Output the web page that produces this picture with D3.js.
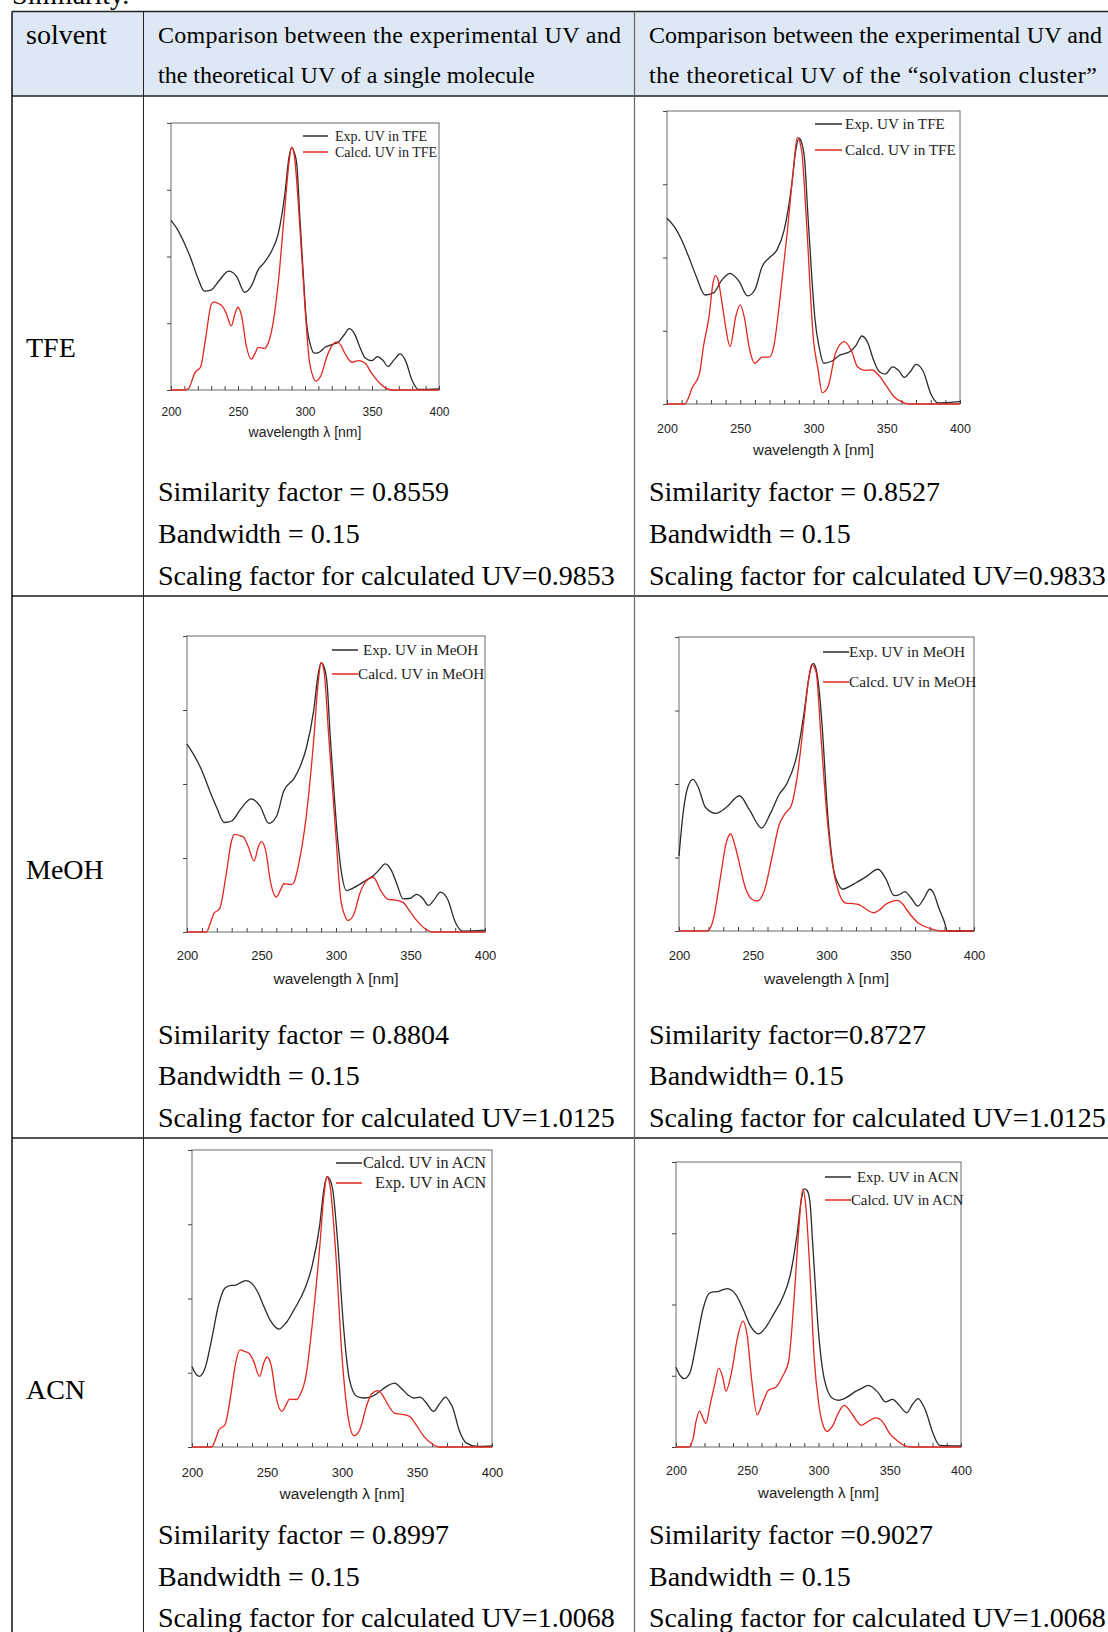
<!DOCTYPE html>
<meta charset="utf-8">
<head>
<style>
  body { margin: 0; background: #fff; }
  svg { display: block; }
</style>
</head>
<body>
<svg width="1108" height="1632"></svg>
<script src="https://d3js.org/d3.v7.min.js"></script>
<script>
// ---- data ----
var xTicks = [200, 250, 300, 350, 400];
var solvents = ["TFE", "MeOH", "ACN"];
var headerCols = [
  ["Comparison between the experimental UV and", "the theoretical UV of a single molecule"],
  ["Comparison between the experimental UV and", "the theoretical UV of the \u201csolvation cluster\u201d"]
];
var similarityText = [
  ["Similarity factor = 0.8559", "Similarity factor = 0.8527"],
  ["Similarity factor = 0.8804", "Similarity factor=0.8727"],
  ["Similarity factor = 0.8997", "Similarity factor =0.9027"]
];
var bandwidthText = [
  ["Bandwidth = 0.15", "Bandwidth = 0.15"],
  ["Bandwidth = 0.15", "Bandwidth= 0.15"],
  ["Bandwidth = 0.15", "Bandwidth = 0.15"]
];
var scalingText = [
  ["Scaling factor for calculated UV=0.9853", "Scaling factor for calculated UV=0.9833"],
  ["Scaling factor for calculated UV=1.0125", "Scaling factor for calculated UV=1.0125"],
  ["Scaling factor for calculated UV=1.0068", "Scaling factor for calculated UV=1.0068"]
];
var legendTFE = ["Exp. UV in TFE", "Calcd. UV in TFE"];
var legendMeOH = ["Exp. UV in MeOH", "Calcd. UV in MeOH"];
var legendACNsingle = ["Calcd. UV in ACN", "Exp. UV in ACN"];
var legendACNcluster = ["Exp. UV in ACN", "Calcd. UV in ACN"];

// [wavelength nm, relative absorbance]
var tfeSingleExp = [[200,.635],[205,.6],[210,.55],[215,.49],[220,.42],[225,.37],[230,.375],[236,.41],[243,.445],[249,.425],[255,.366],[260,.39],[265,.45],[270,.48],[275,.52],[280,.585],[285,.735],[288,.87],[290,.907],[292,.89],[294,.84],[296,.66],[299,.41],[301,.26],[304,.17],[307,.138],[310,.14],[315,.16],[320,.17],[325,.18],[329,.205],[333,.23],[337,.21],[341,.16],[345,.12],[350,.11],[354,.125],[358,.112],[362,.088],[366,.11],[371,.135],[375,.11],[380,.035],[385,.002],[400,.004]];
var tfeSingleCalc = [[200,0],[210,0],[213,.005],[216,.04],[218,.066],[222,.085],[226,.2],[230,.32],[232,.33],[236,.322],[238,.316],[241,.29],[245,.24],[248,.29],[250,.31],[253,.27],[256,.17],[260,.116],[263,.14],[265,.16],[270,.156],[272,.17],[275,.22],[280,.4],[285,.685],[288,.85],[290,.91],[292,.88],[295,.7],[300,.31],[303,.12],[306,.05],[308,.033],[312,.055],[316,.12],[320,.165],[324,.18],[327,.165],[330,.135],[335,.104],[340,.11],[345,.1],[350,.06],[355,.03],[360,.008],[365,0],[400,0]];
var tfeClusterExp = [[200,.634],[205,.605],[210,.56],[215,.5],[220,.435],[226,.372],[232,.38],[237,.42],[243,.446],[249,.42],[255,.369],[260,.39],[265,.47],[270,.5],[275,.525],[280,.594],[285,.742],[288,.87],[290,.907],[292,.89],[294,.83],[296,.66],[299,.42],[301,.29],[304,.19],[307,.139],[312,.145],[318,.167],[325,.179],[329,.2],[333,.232],[337,.21],[341,.15],[345,.11],[349,.102],[354,.127],[358,.115],[362,.091],[366,.11],[370,.135],[375,.11],[380,.036],[385,.004],[400,.008]];
var tfeClusterCalc = [[200,0],[212,0],[215,.025],[217,.053],[222,.1],[225,.2],[229,.31],[231,.4],[233,.438],[235,.42],[238,.33],[240,.264],[243,.196],[247,.3],[250,.338],[253,.29],[256,.196],[260,.139],[265,.16],[270,.16],[273,.2],[277,.355],[282,.582],[286,.787],[289,.91],[292,.86],[295,.64],[300,.218],[303,.12],[306,.039],[310,.06],[315,.173],[321,.213],[326,.18],[330,.127],[335,.115],[340,.116],[345,.095],[350,.06],[355,.025],[360,.008],[365,0],[400,0]];
var meohSingleExp = [[200,.635],[205,.595],[210,.545],[215,.48],[220,.42],[225,.37],[230,.375],[236,.415],[243,.45],[249,.425],[255,.367],[260,.39],[265,.477],[272,.52],[276,.56],[280,.62],[285,.747],[288,.87],[290,.91],[292,.895],[294,.84],[296,.67],[299,.45],[301,.32],[304,.19],[307,.14],[312,.15],[320,.174],[325,.19],[329,.21],[333,.23],[337,.21],[341,.16],[345,.112],[350,.114],[354,.127],[358,.115],[362,.09],[366,.11],[370,.135],[375,.11],[380,.034],[385,.003],[400,.006]];
var meohSingleCalc = [[200,0],[213,0],[216,.035],[218,.062],[222,.08],[226,.185],[230,.31],[232,.33],[236,.325],[238,.32],[241,.29],[245,.24],[248,.29],[250,.305],[253,.27],[256,.17],[260,.118],[263,.145],[265,.163],[270,.16],[272,.17],[275,.23],[280,.39],[285,.646],[288,.84],[290,.91],[292,.88],[295,.67],[300,.32],[303,.118],[306,.055],[308,.039],[312,.06],[316,.13],[320,.17],[325,.185],[330,.14],[335,.11],[340,.108],[345,.1],[350,.067],[355,.034],[360,.01],[365,0],[400,0]];
var meohClusterExp = [[200,.255],[203,.41],[206,.49],[209.5,.516],[213,.49],[218,.42],[225,.4],[232,.42],[241,.46],[248,.41],[256,.35],[262,.4],[268,.465],[273,.5],[280,.6],[285,.75],[288,.86],[291,.91],[293,.89],[295,.82],[297,.7],[301,.385],[305,.204],[308,.16],[311,.142],[315,.15],[320,.164],[327,.185],[335,.21],[340,.18],[346,.12],[350,.125],[353,.134],[357,.115],[362,.085],[366,.11],[370,.142],[373,.125],[376,.08],[380,.03],[382,0],[400,0]];
var meohClusterCalc = [[200,0],[219,0],[223,.034],[228,.18],[232,.3],[235,.33],[238,.29],[240,.25],[245,.147],[249,.11],[253,.102],[258,.14],[263,.25],[268,.363],[272,.4],[276,.425],[280,.52],[285,.73],[288,.86],[290,.907],[293,.88],[296,.68],[300,.408],[304,.227],[308,.136],[313,.095],[318,.093],[322,.09],[327,.074],[332,.062],[336,.072],[340,.09],[344,.1],[348,.104],[352,.09],[355,.068],[362,.028],[370,.009],[378,0],[400,0]];
var acnSingleBlack = [[200,.27],[203,.243],[205,.238],[209,.27],[213,.36],[218,.484],[222,.535],[226,.544],[229,.545],[233,.555],[236,.56],[240,.55],[244,.52],[247,.484],[252,.428],[258,.397],[263,.42],[268,.462],[275,.53],[280,.608],[285,.742],[288,.87],[290,.91],[292,.9],[294,.86],[297,.697],[301,.406],[305,.226],[310,.17],[315,.165],[320,.17],[325,.187],[330,.205],[335,.215],[340,.195],[344,.175],[348,.165],[352,.168],[356,.15],[361,.12],[365,.145],[369,.168],[372,.15],[374,.13],[378,.058],[383,.013],[390,.002],[400,.004]];
var acnSingleRed = [[200,0],[213,0],[216,.03],[218,.058],[222,.075],[226,.18],[229,.28],[232,.327],[235,.322],[238,.316],[241,.29],[245,.238],[248,.285],[250,.303],[253,.27],[256,.17],[260,.12],[263,.145],[265,.161],[270,.16],[272,.175],[276,.24],[280,.405],[285,.664],[288,.85],[290,.91],[292,.88],[296,.64],[300,.305],[304,.103],[308,.038],[312,.06],[317,.148],[320,.18],[324,.19],[327,.175],[330,.148],[335,.114],[340,.11],[345,.103],[350,.07],[355,.033],[360,.011],[365,0],[400,0]];
var acnClusterExp = [[200,.28],[203,.25],[206,.24],[210,.263],[214,.357],[219,.485],[223,.538],[226,.544],[229,.545],[233,.552],[236,.556],[239,.55],[242,.535],[247,.485],[252,.427],[258,.397],[263,.42],[268,.462],[275,.526],[280,.6],[285,.748],[288,.87],[290,.906],[292,.9],[294,.86],[296,.707],[300,.403],[304,.24],[310,.17],[314,.164],[320,.175],[326,.195],[330,.205],[335,.216],[342,.19],[347,.158],[352,.167],[356,.15],[362,.12],[366,.15],[370,.17],[373,.15],[375,.13],[380,.053],[385,.006],[400,.004]];
var acnClusterCalc = [[200,0],[209,0],[212,.03],[214,.088],[216.5,.126],[219,.1],[221,.082],[224,.15],[227,.216],[230,.277],[233,.24],[235,.196],[239,.263],[243,.38],[247,.442],[250,.39],[253,.24],[257,.113],[261,.158],[265,.2],[270,.21],[275,.25],[279,.3],[283,.53],[286,.754],[289,.906],[291,.85],[294,.614],[297,.31],[300,.158],[303,.08],[306,.055],[310,.075],[314,.12],[318,.146],[323,.12],[327,.09],[330,.076],[335,.09],[340,.102],[345,.088],[350,.047],[355,.023],[360,.006],[365,0],[400,0]];

// ---- layout ----
var svg = d3.select("svg");
var serif = "'Liberation Serif', 'Times New Roman', serif";
var sans = "'Liberation Sans', Arial, sans-serif";

var colX = [12, 143.5, 634.5],
    rowY = [11.5, 96, 596, 1138];

// header background
svg.append("rect").attr("x", colX[0]).attr("y", rowY[0])
    .attr("width", 1108 - colX[0]).attr("height", rowY[1] - rowY[0])
    .attr("fill", "#dde8f4");

// cut-off line of text above the table
svg.append("text").attr("x", 12).attr("y", 4).attr("font-family", serif)
    .attr("font-size", 28).attr("fill", "#000").text("Similarity.");

// grid lines
svg.append("line").attr("x1", colX[0]).attr("x2", 1108).attr("y1", rowY[0]).attr("y2", rowY[0])
    .attr("stroke", "#222").attr("stroke-width", 1.5);
svg.append("line").attr("x1", colX[0]).attr("x2", 1108).attr("y1", rowY[1]).attr("y2", rowY[1])
    .attr("stroke", "#222").attr("stroke-width", 1.5);
[rowY[2], rowY[3]].forEach(function(yy) {
  svg.append("line").attr("x1", colX[0]).attr("x2", 1108).attr("y1", yy).attr("y2", yy)
      .attr("stroke", "#555").attr("stroke-width", 2);
});
svg.append("line").attr("x1", colX[0]).attr("x2", colX[0]).attr("y1", rowY[0]).attr("y2", 1632)
    .attr("stroke", "#111").attr("stroke-width", 1.5);
svg.append("line").attr("x1", colX[1]).attr("x2", colX[1]).attr("y1", rowY[0]).attr("y2", 1632)
    .attr("stroke", "#222").attr("stroke-width", 1);
svg.append("line").attr("x1", colX[2]).attr("x2", colX[2]).attr("y1", rowY[0]).attr("y2", 1632)
    .attr("stroke", "#666").attr("stroke-width", 1.2);

function txt(x, y, s, size, len) {
  var t = svg.append("text").attr("x", x).attr("y", y)
      .attr("font-family", serif).attr("font-size", size).attr("fill", "#000").text(s);
  if (len) t.attr("textLength", len).attr("lengthAdjust", "spacing");
  return t;
}

txt(26, 44, "solvent", 28);
txt(158, 42.5, headerCols[0][0], 24, 463);
txt(158, 83, headerCols[0][1], 24);
txt(649, 42.5, headerCols[1][0], 24, 453);
txt(649, 83, headerCols[1][1], 24, 448);

var labelY = [357, 879, 1399];
var infoY = [[501, 543, 585], [1043.5, 1085, 1127], [1544, 1586, 1627]];
solvents.forEach(function(s, i) {
  txt(26, labelY[i], s, 28);
  [158, 649].forEach(function(cx, j) {
    txt(cx, infoY[i][0], similarityText[i][j], 28);
    txt(cx, infoY[i][1], bandwidthText[i][j], 28);
    txt(cx, infoY[i][2], scalingText[i][j], 28);
  });
});

// ---- charts ----
var charts = [
  {left: 171, right: 439, top: 123, bottom: 390, tickY: 416, titleY: 437, tickSize: 12, titleSize: 14,
   black: tfeSingleExp, red: tfeSingleCalc, legend: legendTFE,
   lg: {x1: 303, x2: 328, y1: 136, y2: 152, tx1: 335, tx2: 335, size: 14}},
  {left: 667, right: 960, top: 111, bottom: 404, tickY: 432.5, titleY: 455, tickSize: 12.5, titleSize: 15,
   black: tfeClusterExp, red: tfeClusterCalc, legend: legendTFE,
   lg: {x1: 815, x2: 842, y1: 124, y2: 150, tx1: 845, tx2: 845, size: 15.2}},
  {left: 187, right: 485, top: 636, bottom: 932, tickY: 960, titleY: 984, tickSize: 13, titleSize: 15.5,
   black: meohSingleExp, red: meohSingleCalc, legend: legendMeOH,
   lg: {x1: 332, x2: 358, y1: 650, y2: 674, tx1: 363, tx2: 358, size: 15.2}},
  {left: 679, right: 974, top: 637, bottom: 931, tickY: 959.5, titleY: 984, tickSize: 13, titleSize: 15.5,
   black: meohClusterExp, red: meohClusterCalc, legend: legendMeOH,
   lg: {x1: 823, x2: 849, y1: 652, y2: 682, tx1: 849, tx2: 849, size: 15.3}},
  {left: 192, right: 492, top: 1150, bottom: 1447, tickY: 1476.5, titleY: 1499, tickSize: 13, titleSize: 15.5,
   black: acnSingleBlack, red: acnSingleRed, legend: legendACNsingle,
   lg: {x1: 336, x2: 362, y1: 1163, y2: 1183, tx1: 363, tx2: 375, size: 16.2}},
  {left: 676, right: 961, top: 1162, bottom: 1447, tickY: 1474.5, titleY: 1498, tickSize: 12.5, titleSize: 15,
   black: acnClusterExp, red: acnClusterCalc, legend: legendACNcluster,
   lg: {x1: 825, x2: 851, y1: 1177, y2: 1200, tx1: 857, tx2: 851, size: 14.8}}
];

charts.forEach(function(c) {
  var g = svg.append("g");
  var x = d3.scaleLinear().domain([200, 400]).range([c.left, c.right]),
      y = d3.scaleLinear().domain([0, 1]).range([c.bottom, c.top]);

  g.append("rect").attr("x", c.left).attr("y", c.top)
      .attr("width", c.right - c.left).attr("height", c.bottom - c.top)
      .attr("fill", "none").attr("stroke", "#6a6a6a").attr("stroke-width", 1);

  // minor ticks, inward
  var minor = g.append("g").attr("transform", "translate(0," + c.bottom + ")")
      .call(d3.axisBottom(x).tickValues(d3.range(200, 401, 10)).tickSize(-4).tickFormat(""));
  minor.select(".domain").remove();
  minor.selectAll("line").attr("stroke", "#444");

  var lab = g.append("g").attr("transform", "translate(0," + c.bottom + ")")
      .call(d3.axisBottom(x).tickValues(xTicks).tickSize(0)
        .tickPadding(c.tickY - c.bottom - 0.71 * c.tickSize));
  lab.select(".domain").remove();
  lab.selectAll("text").attr("font-family", sans).attr("font-size", c.tickSize).attr("fill", "#222");

  var ya = g.append("g").attr("transform", "translate(" + c.left + ",0)")
      .call(d3.axisLeft(y).tickValues([0, .25, .5, .75, 1]).tickSize(4).tickFormat(""));
  ya.select(".domain").remove();
  ya.selectAll("line").attr("stroke", "#444");

  g.append("text").attr("x", (c.left + c.right) / 2).attr("y", c.titleY)
      .attr("text-anchor", "middle").attr("font-family", sans).attr("font-size", c.titleSize)
      .attr("fill", "#222").text("wavelength \u03bb [nm]");

  var line = d3.line().curve(d3.curveMonotoneX)
      .x(function(d) { return x(d[0]); })
      .y(function(d) { return y(d[1]); });

  g.append("path").attr("d", line(c.black)).attr("fill", "none")
      .attr("stroke", "#2b2b2b").attr("stroke-width", 1.3);
  g.append("path").attr("d", line(c.red)).attr("fill", "none")
      .attr("stroke", "#e3261f").attr("stroke-width", 1.3);

  // legend
  var lg = c.lg;
  g.append("line").attr("x1", lg.x1).attr("x2", lg.x2).attr("y1", lg.y1).attr("y2", lg.y1)
      .attr("stroke", "#2b2b2b").attr("stroke-width", 1.5);
  g.append("line").attr("x1", lg.x1).attr("x2", lg.x2).attr("y1", lg.y2).attr("y2", lg.y2)
      .attr("stroke", "#e3261f").attr("stroke-width", 1.5);
  g.append("text").attr("x", lg.tx1).attr("y", lg.y1 + lg.size * 0.33)
      .attr("font-family", serif).attr("font-size", lg.size).attr("fill", "#222").text(c.legend[0]);
  g.append("text").attr("x", lg.tx2).attr("y", lg.y2 + lg.size * 0.33)
      .attr("font-family", serif).attr("font-size", lg.size).attr("fill", "#222").text(c.legend[1]);
});
</script>
</body>
